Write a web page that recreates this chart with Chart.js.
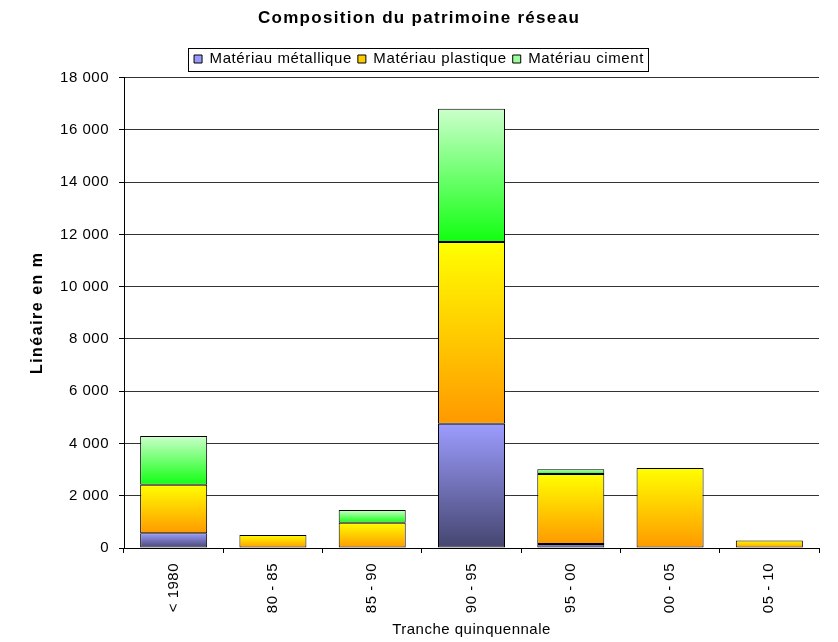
<!DOCTYPE html>
<html><head><meta charset="utf-8">
<script src="https://cdn.jsdelivr.net/npm/chart.js@4/dist/chart.umd.min.js"></script>
<style>html,body{margin:0;padding:0;background:#fff;} #wrap{width:838px;height:642px;}</style>
</head><body><div id="wrap"><canvas id="c" width="838" height="642"></canvas></div>
<script>
const categories = ['< 1980', '80 - 85', '85 - 90', '90 - 95', '95 - 00', '00 - 05', '05 - 10'];
const metallique = [560, null, null, 4750, 150, null, null];
const plastique = [1860, 500, 970, 6960, 2680, 3060, 290];
const ciment = [1870, null, 480, 5100, 180, null, null];
const seriesNames = ['Matériau métallique', 'Matériau plastique', 'Matériau ciment'];
const yMin = 0, yMax = 18000, yStep = 2000;

const FONT = "'Liberation Sans', Arial, sans-serif";
const gradStops = [
  ['#9C9CFF', '#45456F'],
  ['#FFFF00', '#FF9900'],
  ['#CCFFCC', '#11FF11']
];
const legendColors = ['#9999FF', '#FFCC00', '#99FF99'];

function gradientFor(dsIndex) {
  return (ctx) => {
    const chart = ctx.chart;
    if (ctx.type !== 'data' || !chart.chartArea) return legendColors[dsIndex];
    const i = ctx.dataIndex;
    let start = 0;
    for (let k = 0; k < dsIndex; k++) start += chart.data.datasets[k].data[i] || 0;
    const end = start + (ctx.raw || 0);
    const ys = chart.scales.y;
    const yTop = ys.getPixelForValue(end), yBot = ys.getPixelForValue(start);
    if (!isFinite(yTop) || !isFinite(yBot) || yTop === yBot) return gradStops[dsIndex][0];
    const g = chart.ctx.createLinearGradient(0, yTop, 0, yBot);
    g.addColorStop(0, gradStops[dsIndex][0]);
    g.addColorStop(1, gradStops[dsIndex][1]);
    return g;
  };
}

function fmt(v) {
  return String(v).replace(/\B(?=(\d{3})+(?!\d))/g, ' ');
}

function withSpacing(obj, name, spacing) {
  const orig = obj[name];
  obj[name] = function (...args) {
    const c = this.ctx || (this.chart && this.chart.ctx);
    const prev = c.letterSpacing;
    c.letterSpacing = spacing;
    const r = orig.apply(this, args);
    c.letterSpacing = prev;
    return r;
  };
}

const seriesData = [metallique, plastique, ciment];
const datasets = seriesData.map((d, k) => ({
  label: seriesNames[k],
  data: d,
  backgroundColor: gradientFor(k),
  borderColor: '#000',
  borderWidth: 1,
  borderSkipped: false,
  categoryPercentage: 1,
  barPercentage: 0.675
}));

const textTweaks = {
  id: 'textTweaks',
  beforeLayout(chart) {
    chart.ctx.letterSpacing = '0.5px';
  },
  afterInit(chart) {
    const lg = chart.legend;
    const origFit = lg.fit;
    lg.fit = function () { origFit.call(this); this.height += 1.1; };
    withSpacing(lg, 'fit', '0.6px');
    withSpacing(lg, 'draw', '0.6px');
    withSpacing(chart.titleBlock, 'draw', '1.3px');
  },
  afterDraw(chart) {
    const hb = chart.legend.legendHitBoxes;
    if (!hb || !hb.length) return;
    const left = Math.min(...hb.map(h => h.left)) - 6;
    const right = Math.max(...hb.map(h => h.left + h.width)) + 4;
    const top = hb[0].top - 4;
    const bottom = hb[0].top + hb[0].height + 4;
    const c = chart.ctx;
    c.save();
    c.strokeStyle = '#000';
    c.lineWidth = 1;
    c.strokeRect(Math.round(left) + 0.5, Math.round(top) + 0.5, Math.round(right - left), Math.round(bottom - top));
    c.restore();
  }
};

new Chart(document.getElementById('c'), {
  type: 'bar',
  data: { labels: categories, datasets },
  plugins: [textTweaks],
  options: {
    responsive: false,
    animation: false,
    devicePixelRatio: 1,
    layout: { padding: { left: 19, right: 19, top: 0, bottom: 0 } },
    plugins: {
      title: {
        display: true,
        text: 'Composition du patrimoine réseau',
        color: '#000',
        font: { family: FONT, size: 17, weight: 'bold' },
        padding: { top: 7.8, bottom: 17.3 }
      },
      legend: {
        display: true,
        position: 'top',
        labels: {
          color: '#000',
          font: { family: FONT, size: 15 },
          boxWidth: 8,
          boxHeight: 8,
          padding: 6,
          generateLabels: (chart) => seriesNames.map((n, k) => ({
            text: n, fillStyle: legendColors[k], strokeStyle: '#000', lineWidth: 1,
            datasetIndex: k, hidden: false
          }))
        }
      },
      tooltip: { enabled: false }
    },
    scales: {
      x: {
        stacked: true,
        afterFit: (s) => { s.height = 94; },
        grid: { display: true, offset: true, drawOnChartArea: false, drawTicks: true, tickLength: 5, tickColor: '#000', tickWidth: 1 },
        border: { display: true, color: '#000', width: 1 },
        ticks: { color: '#000', font: { family: FONT, size: 15 }, maxRotation: 90, minRotation: 90, padding: 10, autoSkip: false },
        title: { display: true, text: 'Tranche quinquennale', color: '#000', font: { family: FONT, size: 15 }, padding: { top: 0, bottom: 3 } }
      },
      y: {
        stacked: true,
        min: yMin, max: yMax,
        afterFit: (s) => {
          s.width = 105;
          if (!s._spaced) { s._spaced = true; withSpacing(s, 'drawTitle', '1.5px'); }
        },
        grid: { color: '#333', lineWidth: 1, drawTicks: true, tickLength: 5, tickColor: '#000' },
        border: { display: true, color: '#000', width: 1 },
        ticks: { stepSize: yStep, color: '#000', font: { family: FONT, size: 15 }, padding: 10, callback: (v) => fmt(v) },
        title: { display: true, text: 'Linéaire en m', color: '#000', font: { family: FONT, size: 16, weight: 'bold' }, padding: { top: 9.4, bottom: 0 } }
      }
    }
  }
});
</script>
</body></html>
